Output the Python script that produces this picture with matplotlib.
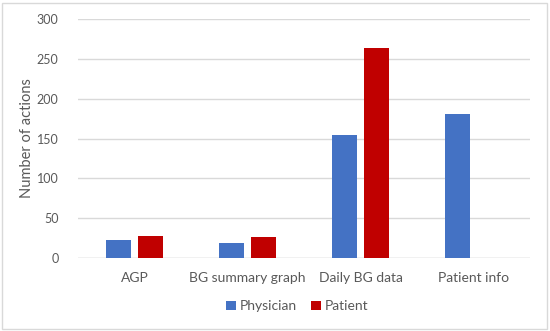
import matplotlib
matplotlib.use("Agg")
import matplotlib.pyplot as plt
import numpy as np
from matplotlib.patches import Rectangle

categories = ["AGP", "BG summary graph", "Daily BG data", "Patient info"]
physician = [23, 19, 155, 181]
patient = [28, 27, 263, 0]
yticks = [0, 50, 100, 150, 200, 250, 300]

plt.rcParams['font.family'] = ['Lato', 'DejaVu Sans']
fig = plt.figure(figsize=(5.5, 3.31), dpi=100)
ax = fig.add_axes([0.1418, 0.2205, 0.8218, 0.7221])

x = np.arange(len(categories))
w = 0.22
ax.bar(x - 0.142, physician, w, color="#4472C4", label="Physician", zorder=3)
ax.bar(x + 0.142, patient, w, color="#C00000", label="Patient", zorder=3)

ax.set_xlim(-0.5, 3.5)
ax.set_ylim(0, 300)
ax.set_yticks(yticks)
ax.set_xticks(x)
ax.set_xticklabels(categories)
ax.grid(axis="y", color="#d9d9d9", linewidth=1, zorder=0)
for s in ax.spines.values():
    s.set_visible(False)
ax.axhline(0, color="#d9d9d9", linewidth=1, zorder=1)
ax.tick_params(axis="both", length=0, labelsize=10, colors="#595959", pad=10)
ax.tick_params(axis="y", pad=14, labelsize=9)
ax.set_ylabel("Number of actions", fontsize=10.5, color="#595959")
ax.yaxis.set_label_coords(-0.098, 0.5)

ax.legend(loc="upper center", bbox_to_anchor=(0.485, -0.125), ncol=2, frameon=False,
          fontsize=10, labelcolor="#595959", handlelength=0.7, handleheight=0.7,
          handletextpad=0.3, columnspacing=1.0)

fig.patches.append(Rectangle((0.004, 0.006), 0.99, 0.985, transform=fig.transFigure,
                             fill=False, edgecolor="#d9d9d9", linewidth=1))
fig.savefig("out.png", dpi=100)
